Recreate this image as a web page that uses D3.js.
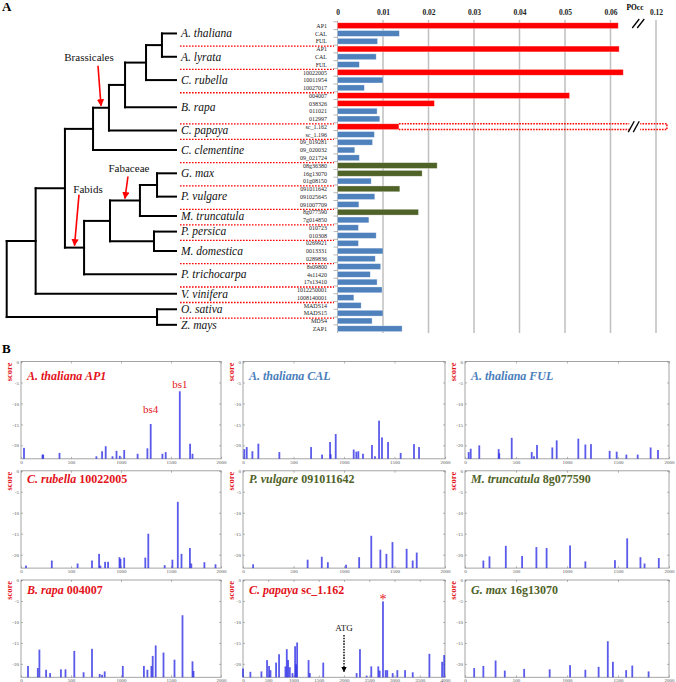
<!DOCTYPE html>
<html lang="en">
<head>
<meta charset="UTF-8">
<title>POcc of AP1 orthologs and binding site scores</title>
<style>
  body { margin: 0; background: #fff; }
  text { font-family: "Liberation Serif", "Times New Roman", serif; }
</style>
</head>
<body>
<div id="chart"></div>
<script src="https://d3js.org/d3.v7.min.js"></script>
<script>

// ---------- panel A data ----------
const species = ["A. thaliana", "A. lyrata", "C. rubella", "B. rapa", "C. papaya", "C. clementine",
  "G. max", "P. vulgare", "M. truncatula", "P. persica", "M. domestica", "P. trichocarpa",
  "V. vinifera", "O. sativa", "Z. mays"];

const geneIds = [
  ["AP1", "CAL", "FUL"],
  ["AP1", "CAL", "FUL"],
  ["10022005", "10011954", "10027017"],
  ["004007", "038326", "011021", "012997"],
  ["sc_1.162", "sc_1.196"],
  ["09_019281", "09_020032", "09_021724"],
  ["08g36380", "16g13070", "01g08150"],
  ["091011642", "091025645", "091007709"],
  ["8g077590", "7g014850"],
  ["010723", "010308"],
  ["0269921", "0013331", "0289836"],
  ["8s09800", "4s11420", "17s13410"],
  ["1012250001", "1008140001"],
  ["MADS14", "MADS15"],
  ["MDS4", "ZAP1"]
];

const poccValues = [
  [0.0617, 0.0136, 0.0088],
  [0.0619, 0.0085, 0.0048],
  [0.0628, 0.0100, 0.0059],
  [0.0510, 0.0213, 0.0087, 0.0093],
  [0.0135, 0.0081],
  [0.0077, 0.0038, 0.0048],
  [0.0219, 0.0186, 0.0074],
  [0.0137, 0.0082, 0.0047],
  [0.0178, 0.0069],
  [0.0046, 0.0085],
  [0.0046, 0.0100, 0.0083],
  [0.0095, 0.0072, 0.0087],
  [0.0098, 0.0036],
  [0.0052, 0.0100],
  [0.0076, 0.0142]
];

// "ap1" = red, "leg" = legume green, "oth" = blue
const barKinds = [
  ["ap1", "oth", "oth"],
  ["ap1", "oth", "oth"],
  ["ap1", "oth", "oth"],
  ["ap1", "ap1", "oth", "oth"],
  ["ap1", "oth"],
  ["oth", "oth", "oth"],
  ["leg", "leg", "oth"],
  ["leg", "oth", "oth"],
  ["leg", "oth"],
  ["oth", "oth"],
  ["oth", "oth", "oth"],
  ["oth", "oth", "oth"],
  ["oth", "oth"],
  ["oth", "oth"],
  ["oth", "oth"]
];

// C. papaya sc_1.162 runs off the broken axis
const papayaFull = 0.1224;
const poccTicks = [0, 0.01, 0.02, 0.03, 0.04, 0.05, 0.06, 0.12];

// species tree (d = relative depth from root, leaves at 1)
const treeData = {d: 0, children: [
  {d: 0.171, children: [
    {d: 0.344, children: [
      {d: 0.510, children: [
        {d: 0.604, children: [
          {d: 0.699, children: [
            {d: 0.823, children: [
              {d: 0.917, children: [{name: "A. thaliana"}, {name: "A. lyrata"}]},
              {name: "C. rubella"}]},
            {name: "B. rapa"}]},
          {name: "C. papaya"}]},
        {name: "C. clementine"}]},
      {d: 0.457, children: [
        {d: 0.610, children: [
          {d: 0.787, children: [
            {d: 0.888, children: [{name: "G. max"}, {name: "P. vulgare"}]},
            {name: "M. truncatula"}]},
          {d: 0.870, children: [{name: "P. persica"}, {name: "M. domestica"}]}]},
        {name: "P. trichocarpa"}]}]},
    {name: "V. vinifera"}]},
  {d: 0.888, children: [{name: "O. sativa"}, {name: "Z. mays"}]}
]};

const cladeNotes = [
  {label: "Brassicales", leaves: ["A. thaliana", "C. papaya"], rise: 40, tilt: -3, labelDx: -9, gap: 5},
  {label: "Fabids", leaves: ["G. max", "P. trichocarpa"], rise: 51, tilt: 4.5, labelDx: 9, gap: 2},
  {label: "Fabaceae", leaves: ["G. max", "M. truncatula"], rise: 22, tilt: 3, labelDx: 1, gap: 5}
];

// ---------- panel B data: [position, score] ----------
const thalAP1 = [[30, -20.6], [215, -22.2], [222, -22.2], [385, -21.8], [754, -22.6], [811, -21.4], [847, -20.2],
  [915, -22.6], [955, -21.3], [988, -22.5], [1032, -21.1], [1166, -22.0], [1264, -20.7], [1297, -14.9],
  [1414, -22.0], [1447, -21.6], [1588, -7.1], [1691, -19.6], [1715, -22.0]];
const thalCAL = [[13, -20.9], [37, -20.4], [93, -21.4], [152, -19.6], [360, -21.6], [674, -20.4], [783, -22.2],
  [862, -19.2], [868, -22.1], [918, -17.3], [1096, -21.0], [1122, -21.5], [1142, -21.4], [1188, -22.0],
  [1277, -19.9], [1307, -22.6], [1347, -14.1], [1376, -18.1], [1436, -19.2], [1561, -21.8], [1693, -19.7], [1743, -20.4]];
const thalFUL = [[36, -21.6], [56, -20.8], [140, -20.0], [330, -20.9], [336, -21.9], [458, -18.2], [654, -21.6],
  [676, -22.6], [706, -19.9], [856, -20.5], [899, -18.8], [1111, -18.4], [1180, -19.8], [1235, -19.7],
  [1418, -21.3], [1487, -21.5], [1582, -22.2], [1693, -22.2], [1820, -20.5], [1892, -21.1]];
const rubella = [[50, -22.6], [308, -21.4], [566, -22.1], [710, -21.4], [781, -19.8], [794, -22.6], [841, -21.7],
  [871, -21.7], [985, -20.6], [995, -21.0], [1032, -20.7], [1243, -20.7], [1273, -15.0], [1437, -22.5],
  [1514, -21.2], [1568, -7.4], [1605, -19.8], [1689, -18.4], [1703, -22.1], [1834, -21.8], [1945, -22.3]];
const vulgare = [[100, -22.3], [640, -21.2], [780, -20.5], [840, -21.8], [1020, -22.4], [1150, -20.6],
  [1270, -15.5], [1360, -18.8], [1420, -19.8], [1480, -17.0], [1620, -18.6], [1680, -21.4], [1720, -19.5]];
const truncatula = [[180, -21.4], [240, -20.4], [400, -17.9], [560, -20.3], [700, -18.2], [800, -18.4],
  [1030, -17.8], [1180, -21.6], [1470, -21.3], [1590, -16.1], [1720, -20.6], [1760, -22.1], [1900, -20.8]];
const rapa = [[70, -20.5], [168, -21.0], [184, -16.6], [251, -21.4], [291, -22.2], [399, -21.3], [445, -21.3],
  [533, -16.9], [626, -22.0], [710, -16.4], [787, -22.4], [811, -22.6], [837, -21.8], [1018, -20.5],
  [1229, -20.5], [1264, -21.4], [1304, -20.5], [1317, -18.1], [1347, -15.6], [1425, -17.3], [1535, -19.0],
  [1615, -8.4], [1715, -19.4], [1725, -21.7]];
const papaya = [[0, -21.1], [146, -21.9], [365, -21.8], [476, -19.1], [516, -20.5], [544, -21.5], [655, -19.7],
  [714, -17.7], [841, -20.6], [867, -16.5], [893, -19.1], [927, -20.8], [980, -22.2], [1032, -15.8],
  [1052, -20.1], [1072, -14.9], [1298, -19.1], [1324, -22.2], [1589, -19.7], [2250, -22.2], [2316, -16.5],
  [2448, -22.8], [2540, -20.6], [2679, -20.6], [2706, -21.6], [2772, -5.1], [2825, -21.5], [2857, -21.5],
  [2964, -22.2], [3056, -21.5], [3209, -21.5], [3361, -22.0], [3691, -17.6], [3943, -19.5], [3983, -17.9]];
const gmax = [[90, -21.0], [180, -20.5], [300, -19.2], [390, -21.6], [580, -21.2], [830, -21.3], [1030, -20.3],
  [1180, -21.4], [1310, -20.7], [1400, -14.6], [1450, -19.5], [1580, -21.5], [1640, -20.4], [1800, -21.8]];

const panelSeries = [thalAP1, thalCAL, thalFUL, rubella, vulgare, truncatula, rapa, papaya, gmax];
const panelSpecies = ["A. thaliana", "A. thaliana", "A. thaliana", "C. rubella", "P. vulgare", "M. truncatula",
  "B. rapa", "C. papaya", "G. max"];
const panelGenes = ["AP1", "CAL", "FUL", "10022005", "091011642", "8g077590", "004007", "sc_1.162", "16g13070"];
const panelKinds = ["ap1", "oth", "oth", "ap1", "leg", "leg", "ap1", "ap1", "leg"];
const panelXMax = [2000, 2000, 2000, 2000, 2000, 2000, 2000, 4000, 2000];
const scoreTicks = [0, -5, -10, -15, -20];
const siteNotes = [
  {panel: 0, pos: 1588, score: -7.1, text: "bs1", gap: 3},
  {panel: 0, pos: 1297, score: -14.9, text: "bs4", gap: 11}
];

// ---------- setup ----------
const W = 676, H = 682;
const barColor = {ap1: "#ff0000", leg: "#4f6228", oth: "#4f81bd"};
const titleColor = {ap1: "#e3131b", leg: "#4f6228", oth: "#4a7ebb"};

const svg = d3.select("#chart").append("svg")
  .attr("width", W).attr("height", H);
svg.append("rect").attr("width", W).attr("height", H).attr("fill", "#fff");

svg.append("defs").append("marker")
  .attr("id", "redhead").attr("viewBox", "0 0 10 10")
  .attr("refX", 9).attr("refY", 5)
  .attr("markerWidth", 4.5).attr("markerHeight", 4.5)
  .attr("orient", "auto")
  .append("path").attr("d", "M0,0L10,5L0,10Z").attr("fill", "#f00");
svg.select("defs").append("marker")
  .attr("id", "blackhead").attr("viewBox", "0 0 10 10")
  .attr("refX", 9).attr("refY", 5)
  .attr("markerWidth", 4).attr("markerHeight", 4)
  .attr("orient", "auto")
  .append("path").attr("d", "M0,0L10,5L0,10Z").attr("fill", "#000");

// panel letters
svg.append("text").attr("x", 2).attr("y", 11).attr("font-size", 13).attr("font-weight", "bold").text("A");
svg.append("text").attr("x", 2).attr("y", 353).attr("font-size", 13).attr("font-weight", "bold").text("B");

// ---------- panel A: bars ----------
const rows = [];
species.forEach((sp, i) => geneIds[i].forEach((g, j) => rows.push({
  key: sp + "|" + g, sp: sp, gene: g, v: poccValues[i][j], kind: barKinds[i][j]
})));

const yBar = d3.scaleBand()
  .domain(rows.map(r => r.key))
  .range([21.8, 332.6])
  .paddingInner(0.25)
  .paddingOuter(0.125);
const step = yBar.step();
const mid = k => yBar(k) + yBar.bandwidth() / 2;

// broken axis: 0..0.065 linear, 0.065..0.115 collapsed, 0.115.. linear again
const xBar = d3.scaleLinear()
  .domain([0, 0.065, 0.115, 0.13])
  .range([337.5, 633.25, 633.25, 701.5]);

const plotA = svg.append("g").attr("id", "plotA");

// gridlines
plotA.selectAll("line.grid")
  .data(poccTicks.filter(t => t > 0))
  .enter().append("line")
  .attr("class", "grid")
  .attr("x1", d => xBar(d)).attr("x2", d => xBar(d))
  .attr("y1", 20).attr("y2", 333)
  .attr("stroke", "#bfbfbf").attr("stroke-width", 1.5);

// top axis labels
const xAxisA = d3.axisTop(xBar).tickValues(poccTicks)
  .tickFormat(d => d === 0 ? "0" : String(d)).tickSize(0).tickPadding(4);
const gxa = plotA.append("g").attr("transform", "translate(0,19)").call(xAxisA);
gxa.select(".domain").remove();
gxa.selectAll("text").attr("font-size", 7.5).attr("font-weight", "bold").attr("fill", "#222")
  .attr("font-family", "Liberation Serif, serif");
plotA.append("text").attr("x", xBar(0.12) - 21).attr("y", 10)
  .attr("font-size", 7.5).attr("font-weight", "bold").attr("text-anchor", "middle").text("POcc");

// axis break marks on the axis
const brk = xBar(0.09);
[0, 5].forEach(o => plotA.append("line")
  .attr("x1", brk + o - 1).attr("y1", 28).attr("x2", brk + o + 6).attr("y2", 19)
  .attr("stroke", "#000").attr("stroke-width", 1.3));

// category axis line and ticks
plotA.append("line").attr("x1", xBar(0)).attr("x2", xBar(0)).attr("y1", 21).attr("y2", 333)
  .attr("stroke", "#a6a6a6").attr("stroke-width", 1);
plotA.selectAll("line.rtick")
  .data(rows)
  .enter().append("line")
  .attr("class", "rtick")
  .attr("x1", xBar(0) - 4).attr("x2", xBar(0))
  .attr("y1", d => yBar(d.key) - step * 0.125).attr("y2", d => yBar(d.key) - step * 0.125)
  .attr("stroke", "#a6a6a6").attr("stroke-width", 0.8);

// bars
plotA.selectAll("rect.bar")
  .data(rows)
  .enter().append("rect")
  .attr("class", "bar")
  .attr("x", xBar(0))
  .attr("y", d => yBar(d.key))
  .attr("width", d => xBar(d.v) - xBar(0))
  .attr("height", yBar.bandwidth())
  .attr("fill", d => barColor[d.kind])
  .attr("stroke", "rgba(255,255,255,0.55)").attr("stroke-width", 0.6);

// papaya overflow outline
const pap = rows.find(r => r.gene === "sc_1.162");
const py0 = yBar(pap.key), py1 = py0 + yBar.bandwidth();
plotA.append("path")
  .attr("d", `M${xBar(pap.v)},${py0}H${xBar(papayaFull)}V${py1}H${xBar(pap.v)}`)
  .attr("fill", "none").attr("stroke", "#f00").attr("stroke-width", 1.5)
  .attr("stroke-dasharray", "1.6,1.2");
plotA.append("rect").attr("x", brk - 4).attr("y", py0 - 2).attr("width", 11).attr("height", py1 - py0 + 4)
  .attr("fill", "#fff");
[0, 5].forEach(o => plotA.append("line")
  .attr("x1", brk + o - 5).attr("y1", py1 + 2.5).attr("x2", brk + o + 1).attr("y2", py0 - 2.5)
  .attr("stroke", "#000").attr("stroke-width", 1.3));

// gene labels
plotA.selectAll("text.gene")
  .data(rows)
  .enter().append("text")
  .attr("class", "gene")
  .attr("x", 327).attr("y", d => mid(d.key) + 2.2)
  .attr("text-anchor", "end").attr("font-size", 6).attr("fill", "#222")
  .text(d => d.gene);

// species groups
const groups = species.map((sp, i) => {
  const ks = geneIds[i].map(g => sp + "|" + g);
  return {sp: sp, first: ks[0], last: ks[ks.length - 1], y: (mid(ks[0]) + mid(ks[ks.length - 1])) / 2};
});
const groupY = Object.fromEntries(groups.map(g => [g.sp, g.y]));

// red dotted separators
plotA.selectAll("line.sep")
  .data(groups.slice(0, -1))
  .enter().append("line")
  .attr("class", "sep")
  .attr("x1", 180).attr("x2", 334)
  .attr("y1", d => mid(d.last) + step / 2 + 1)
  .attr("y2", d => mid(d.last) + step / 2 + 1)
  .attr("stroke", "#f00").attr("stroke-width", 1.3).attr("stroke-dasharray", "1.6,1.4");

// ---------- panel A: tree ----------
const xTree = d3.scaleLinear().domain([0, 1]).range([6.7, 176]);
const root = d3.hierarchy(treeData);
root.eachAfter(n => {
  n.dep = n.children ? n.data.d : 1;
  n.yy = n.children ? (n.children[0].yy + n.children[n.children.length - 1].yy) / 2 : groupY[n.data.name];
});

const treeG = svg.append("g").attr("id", "tree")
  .attr("fill", "none").attr("stroke", "#000").attr("stroke-width", 2).attr("stroke-linecap", "square");
root.descendants().forEach(n => {
  if (n.parent) {
    treeG.append("line")
      .attr("x1", xTree(n.parent.dep)).attr("x2", xTree(n.dep))
      .attr("y1", n.yy).attr("y2", n.yy);
  }
  if (n.children) {
    treeG.append("line")
      .attr("x1", xTree(n.dep)).attr("x2", xTree(n.dep))
      .attr("y1", n.children[0].yy).attr("y2", n.children[n.children.length - 1].yy);
  }
});

svg.selectAll("text.species")
  .data(groups)
  .enter().append("text")
  .attr("class", "species")
  .attr("x", xTree(1) + 5).attr("y", d => d.y + 3.8)
  .attr("font-size", 11.5).attr("font-style", "italic").attr("fill", "#111")
  .text(d => d.sp);

// clade arrows
const leafNode = Object.fromEntries(root.leaves().map(l => [l.data.name, l]));
cladeNotes.forEach(c => {
  const a = leafNode[c.leaves[0]], b = leafNode[c.leaves[1]];
  const anc = a.ancestors().find(n => b.ancestors().includes(n));
  const tx = (xTree(anc.parent.dep) + xTree(anc.dep)) / 2;
  const ty = anc.yy - 2;
  const sx = tx + c.tilt, sy = ty - c.rise;
  svg.append("line").attr("x1", sx).attr("y1", sy).attr("x2", tx).attr("y2", ty)
    .attr("stroke", "#f00").attr("stroke-width", 1.6).attr("marker-end", "url(#redhead)");
  svg.append("text").attr("x", sx + c.labelDx).attr("y", sy - c.gap)
    .attr("text-anchor", "middle").attr("font-size", 11).attr("fill", "#111").text(c.label);
});

// ---------- panel B: score plots ----------
const colLeft = [21, 243, 465];
const colWidth = [200, 202, 204];
const rowTop = [361.5, 470.8, 580];
const panelH = 97.3;
const titleDrop = [18.5, 12, 14];

panelSeries.forEach((series, i) => {
  const r = Math.floor(i / 3), c = i % 3;
  const left = colLeft[c], top = rowTop[r], w = colWidth[c];
  const xs = d3.scaleLinear().domain([0, panelXMax[i]]).range([left, left + w]);
  const ys = d3.scaleLinear().domain([0, -23.2]).range([top, top + panelH]);
  const g = svg.append("g").attr("class", "panel");

  g.append("rect").attr("x", left).attr("y", top).attr("width", w).attr("height", panelH)
    .attr("fill", "#fff").attr("stroke", "#9a9a9a").attr("stroke-width", 0.9);

  const xt = d3.range(0, panelXMax[i] + 1, 500);
  const gxB = g.append("g").attr("transform", `translate(0,${top + panelH})`)
    .call(d3.axisBottom(xs).tickValues(xt).tickSizeInner(-2).tickSizeOuter(0).tickPadding(1.5)
      .tickFormat(d3.format("d")));
  const gxT = g.append("g").attr("transform", `translate(0,${top})`)
    .call(d3.axisTop(xs).tickValues(xt).tickSizeInner(-2).tickSizeOuter(0).tickFormat(""));
  const gyL = g.append("g").attr("transform", `translate(${left},0)`)
    .call(d3.axisLeft(ys).tickValues(scoreTicks).tickSizeInner(-2).tickSizeOuter(0).tickPadding(2)
      .tickFormat(d => d === 0 ? "0" : "-" + Math.abs(d)));
  const gyR = g.append("g").attr("transform", `translate(${left + w},0)`)
    .call(d3.axisRight(ys).tickValues(scoreTicks).tickSizeInner(-2).tickSizeOuter(0).tickFormat(""));
  [gxB, gxT, gyL, gyR].forEach(a => {
    a.select(".domain").remove();
    a.selectAll("line").attr("stroke", "#888").attr("stroke-width", 0.6);
    a.selectAll("text").attr("font-size", 5).attr("fill", "#555").attr("font-family", "DejaVu Sans, sans-serif");
  });

  g.selectAll("rect.hit")
    .data(series)
    .enter().append("rect")
    .attr("class", "hit")
    .attr("x", d => xs(d[0]) - 0.9)
    .attr("y", d => ys(d[1]))
    .attr("width", 1.8)
    .attr("height", d => ys(-23.2) - ys(d[1]))
    .attr("fill", "#2b2be6").attr("fill-opacity", 0.78);

  const t = g.append("text").attr("x", left + 6).attr("y", top + titleDrop[r])
    .attr("font-size", 12).attr("font-weight", "bold").attr("fill", titleColor[panelKinds[i]]);
  t.append("tspan").attr("font-style", "italic").text(panelSpecies[i] + " ");
  t.append("tspan").attr("font-style", r === 0 ? "italic" : "normal").text(panelGenes[i]);

  g.append("text")
    .attr("transform", `translate(${left - 9},${top + 1}) rotate(-90)`)
    .attr("text-anchor", "end").attr("font-size", 8.5).attr("font-weight", "bold")
    .attr("fill", "#e3131b").text("score");

  // annotations for this panel
  siteNotes.filter(s => s.panel === i).forEach(s => {
    g.append("text").attr("x", xs(s.pos)).attr("y", ys(s.score) - s.gap)
      .attr("text-anchor", "middle").attr("font-size", 11).attr("fill", "#e3131b").text(s.text);
  });

  if (panelGenes[i] === "sc_1.162") {
    // strongest site (score closest to zero) gets the star
    const best = series.reduce((a, b) => (b[1] > a[1] ? b : a));
    g.append("text").attr("x", xs(best[0])).attr("y", ys(best[1]) + 3)
      .attr("text-anchor", "middle").attr("font-size", 14).attr("fill", "#e3131b").text("*");
    g.append("text").attr("x", xs(2000)).attr("y", ys(-12.2))
      .attr("text-anchor", "middle").attr("font-size", 9).attr("fill", "#111").text("ATG");
    g.append("line").attr("x1", xs(2000)).attr("x2", xs(2000))
      .attr("y1", ys(-13.1)).attr("y2", ys(-21.9))
      .attr("stroke", "#000").attr("stroke-width", 1.4).attr("stroke-dasharray", "1.6,1.2")
      .attr("marker-end", "url(#blackhead)");
  }
});

</script>
</body>
</html>
